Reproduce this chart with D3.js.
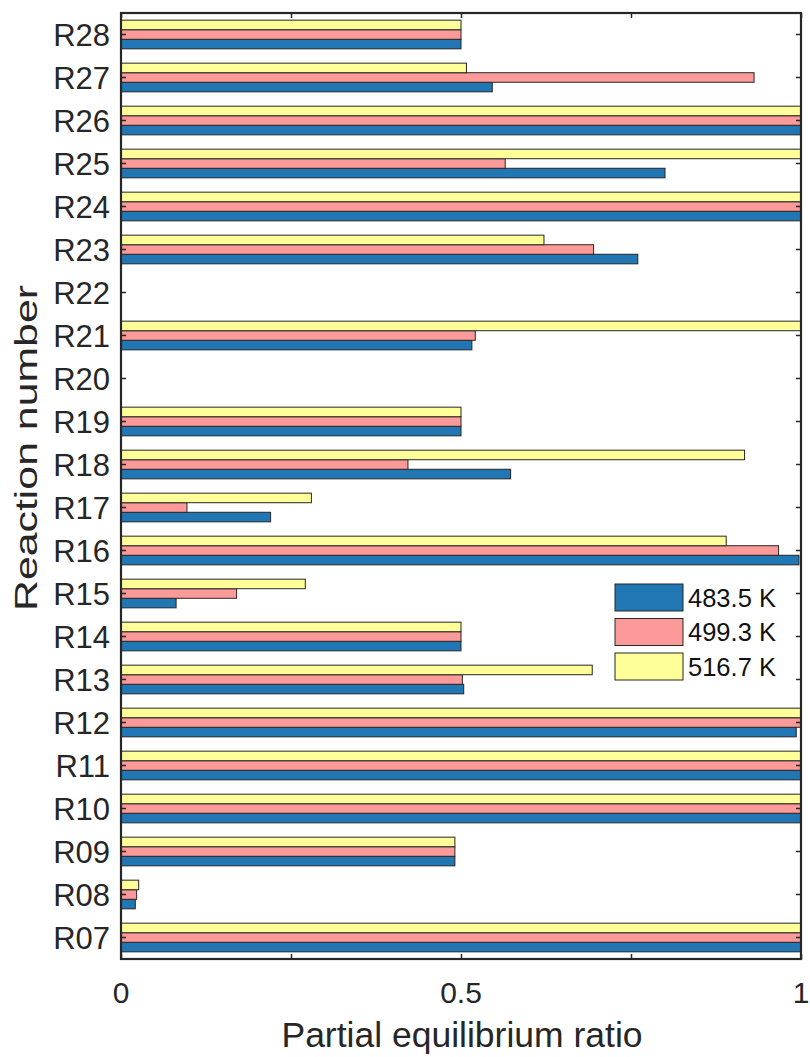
<!DOCTYPE html>
<html>
<head>
<meta charset="utf-8">
<script src="https://cdn.jsdelivr.net/npm/d3@7"></script>
<style>
  html, body { margin: 0; padding: 0; background: #fff; }
  svg { display: block; font-family: "Liberation Sans", Arial, Helvetica, sans-serif; }
</style>
</head>
<body>
<svg id="chart" width="810" height="1057"></svg>
<script>
// Reactions, listed bottom to top
const reactions = ["R07","R08","R09","R10","R11","R12","R13","R14","R15","R16","R17",
                   "R18","R19","R20","R21","R22","R23","R24","R25","R26","R27","R28"];

// Partial equilibrium ratio per reaction at each temperature
const ratio483 = [1, 0.021, 0.491, 1, 1, 0.993, 0.504, 0.5, 0.081, 0.997, 0.220,
                  0.573, 0.5, 0, 0.516, 0, 0.760, 1, 0.800, 1, 0.546, 0.5];
const ratio499 = [1, 0.023, 0.491, 1, 1, 1, 0.502, 0.5, 0.170, 0.967, 0.097,
                  0.422, 0.5, 0, 0.521, 0, 0.695, 1, 0.565, 1, 0.931, 0.5];
const ratio517 = [1, 0.026, 0.491, 1, 1, 1, 0.693, 0.5, 0.271, 0.890, 0.280,
                  0.917, 0.5, 0, 1, 0, 0.622, 1, 1, 1, 0.508, 0.5];

const seriesNames = ["483.5 K", "499.3 K", "516.7 K"];
const seriesColors = ["#2077b4", "#fc9a9a", "#ffff99"];
const xTickValues = [0, 0.25, 0.5, 0.75, 1];
const xTickLabels = ["0", "", "0.5", "", "1"];

const series = [ratio483, ratio499, ratio517];

const plotLeft = 121, plotRight = 801, plotTop = 13, plotBottom = 959;
const svg = d3.select("#chart");

const x = d3.scaleLinear().domain([0, 1]).range([plotLeft, plotRight]);
const y = d3.scaleBand().domain(reactions).range([plotBottom, plotTop]).paddingInner(0).paddingOuter(0);
// Grouped bars occupy 2/3 of each category slot; first series at the bottom
const groupFrac = 3 / 4.5;
const inner = d3.scaleBand().domain(d3.range(series.length))
  .range([y.bandwidth() * (1 + groupFrac) / 2, y.bandwidth() * (1 - groupFrac) / 2]);

// Bars
series.forEach((vals, si) => {
  svg.append("g")
    .selectAll("rect")
    .data(vals.map((v, i) => ({ r: reactions[i], v })))
    .join("rect")
    .attr("x", x(0))
    .attr("y", d => y(d.r) + inner(si))
    .attr("width", d => x(d.v) - x(0))
    .attr("height", inner.bandwidth())
    .attr("fill", seriesColors[si])
    .attr("stroke", d => d.v > 0 ? "#262626" : "none")
    .attr("stroke-width", 1);
});

// Axes with inward ticks on all four sides
const axisColor = "#262626";
const yLeft = svg.append("g").attr("transform", `translate(${plotLeft},0)`)
  .call(d3.axisRight(y).tickSize(5).tickFormat(""));
const yRight = svg.append("g").attr("transform", `translate(${plotRight},0)`)
  .call(d3.axisLeft(y).tickSize(5).tickFormat(""));
const xBottom = svg.append("g").attr("transform", `translate(0,${plotBottom})`)
  .call(d3.axisTop(x).tickValues(xTickValues).tickSize(5).tickFormat(""));
const xTop = svg.append("g").attr("transform", `translate(0,${plotTop})`)
  .call(d3.axisBottom(x).tickValues(xTickValues).tickSize(5).tickFormat(""));
[yLeft, yRight, xBottom, xTop].forEach(g => {
  g.select(".domain").remove();
  g.selectAll("line").attr("stroke", axisColor).attr("stroke-width", 1.5);
});

// Frame
svg.append("rect")
  .attr("x", plotLeft).attr("y", plotTop)
  .attr("width", plotRight - plotLeft).attr("height", plotBottom - plotTop)
  .attr("fill", "none").attr("stroke", axisColor).attr("stroke-width", 2.2);

// Category labels
svg.append("g").selectAll("text")
  .data(reactions)
  .join("text")
  .attr("x", plotLeft - 11)
  .attr("y", d => y(d) + y.bandwidth() / 2 + 11)
  .attr("text-anchor", "end")
  .attr("font-size", 31)
  .attr("fill", axisColor)
  .text(d => d);

// Value tick labels
svg.append("g").selectAll("text")
  .data(xTickValues.map((v, i) => ({ v, t: xTickLabels[i] })).filter(d => d.t))
  .join("text")
  .attr("x", d => x(d.v))
  .attr("y", plotBottom + 44)
  .attr("text-anchor", "middle")
  .attr("font-size", 30)
  .attr("fill", axisColor)
  .text(d => d.t);

// Axis titles
svg.append("text")
  .attr("x", 462)
  .attr("y", 1047)
  .attr("text-anchor", "middle")
  .attr("font-size", 35.5)
  .attr("fill", axisColor)
  .text("Partial equilibrium ratio");

svg.append("text")
  .attr("transform", "translate(37,448) rotate(-90)")
  .attr("text-anchor", "middle")
  .attr("font-size", 31)
  .attr("textLength", 326)
  .attr("lengthAdjust", "spacingAndGlyphs")
  .attr("fill", axisColor)
  .text("Reaction number");

// Legend
const legend = svg.append("g").attr("transform", "translate(615,584)");
seriesNames.forEach((name, i) => {
  const row = legend.append("g").attr("transform", `translate(0,${i * 34.5})`);
  row.append("rect")
    .attr("width", 68).attr("height", 27)
    .attr("fill", seriesColors[i])
    .attr("stroke", "#262626").attr("stroke-width", 1);
  row.append("text")
    .attr("x", 73).attr("y", 22.5)
    .attr("font-size", 25.5)
    .attr("fill", "#111")
    .text(name);
});
</script>
</body>
</html>
